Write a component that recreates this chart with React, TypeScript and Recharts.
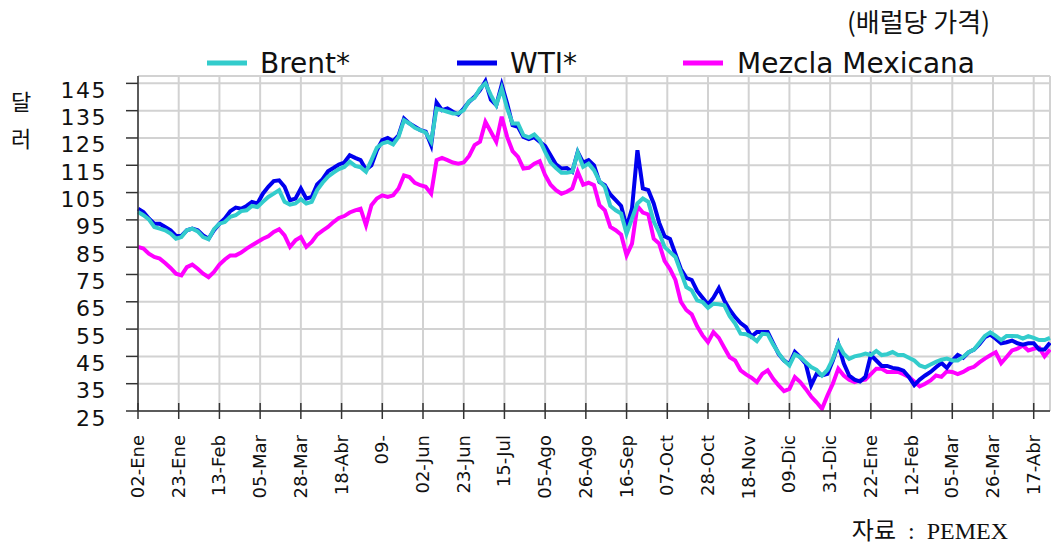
import { CartesianGrid, Line, LineChart, XAxis, YAxis } from "recharts";

// precios diarios (cada 2 días hábiles), dólares por barril
const brent = [
    97.9, 96.7, 95.2, 92.4, 91.8, 91.2, 90, 88.1, 88.7, 91.2,
    91.8, 90.8, 88.7, 87.9, 91.6, 93.6, 94.2, 96.1, 96.7, 98.2,
    98.5, 100.1, 99.7, 101.6, 103.4, 104.6, 105.9, 101.6, 100.6, 101,
    102.6, 101, 101.6, 105.9, 108.6, 110.8, 112.3, 113.6, 114.4, 116.3,
    114.8, 114.3, 112.6, 116.9, 121.4, 123, 123.6, 122.6, 125.4, 131.5,
    130.3, 128.7, 127.9, 127, 123.6, 135.8, 135.2, 134.6, 134, 134,
    135.2, 138.5, 139.7, 143.1, 145, 140.7, 137, 143.1, 135.8, 130.3,
    130.3, 126, 125.2, 126.3, 124.2, 119.9, 116, 114, 112.3, 112.3,
    112.6, 119.7, 114.4, 115.6, 113.2, 109.2, 107.1, 100.1, 98.5, 97.3,
    90, 95.5, 101, 102.8, 101.6, 94.5, 90.3, 85.1, 83.2, 81.4,
    75.9, 70.4, 69.2, 65.5, 64.9, 62.8, 64.3, 64.1, 63.7, 59.7,
    57, 53.3, 53.1, 52.1, 50.6, 53.3, 53.1, 49.4, 46.2, 43.5,
    41.7, 45.7, 44.7, 42.9, 41.1, 40.1, 38, 40.1, 44.1, 49.6,
    46, 44.1, 45, 45.4, 46, 45.5, 47, 45.5, 45.8, 46.6,
    45.5, 45.5, 44.5, 43.5, 41.7, 41, 42, 43, 43.8, 44.2,
    43.5, 43.5, 44.8, 46.5, 47.5, 50, 52.5, 53.8, 52.5, 51,
    52.5, 52.5, 52.4, 51.5, 52.4, 51.8, 51, 51, 51.8,
];

const wti = [
    99.1, 97.9, 95.5, 93.6, 93.6, 92.4, 91.2, 89.1, 89.1, 91.2,
    91.8, 91.2, 89.3, 88.1, 91.2, 93.6, 95.5, 98.2, 99.5, 99.1,
    100.1, 101.6, 101, 104.6, 107.1, 109.2, 109.5, 107.1, 102.2, 102.8,
    106.5, 102.8, 103.4, 108, 109.9, 112.8, 114, 115.3, 116, 118.7,
    117.7, 116.9, 113.4, 115, 120.5, 124.2, 125, 123.8, 126, 132.1,
    130.3, 129.1, 127.9, 127.3, 122.4, 138, 135.2, 135.8, 134.6, 133.6,
    135.8, 138.3, 140.1, 142.5, 145.8, 139, 137, 144.5, 137.6, 129.7,
    129.1, 125.4, 124.6, 125.3, 123.6, 122, 118.7, 115.3, 113.8, 114,
    112.6, 119.9, 116, 116.9, 115, 108.9, 107.7, 104.3, 102.2, 100.1,
    92.4, 99.1, 120.5, 106.5, 105.9, 101, 94, 89, 88, 82.5,
    77, 73.8, 73, 69, 66.5, 64, 66.5, 70, 65.5, 62.1,
    59.4, 57.2, 55.7, 52.3, 53.9, 53.9, 53.9, 49.9, 45.9, 43.5,
    42.1, 46.6, 44.7, 42.3, 34.4, 38.6, 38, 38.6, 43.5, 49.5,
    42.5, 38, 36.5, 35.8, 37.5, 45.5, 43.5, 41.5, 41.5, 40.8,
    40.5, 39.8, 37.5, 34.5, 36.5, 38, 39.3, 41, 42.6, 40.8,
    43.5, 45.5, 44.5, 46.5, 47.5, 49.5, 52, 53, 51.5, 49.8,
    50.2, 50.8, 49.8, 49.3, 49.8, 49.8, 47.5, 47.5, 50,
];

const mezcla = [
    85.1, 84.5, 82.6, 81.4, 80.8, 79.2, 77.4, 75.3, 74.7, 77.7,
    78.6, 77.1, 75.3, 74, 75.9, 78.6, 80.5, 82, 82, 83,
    84.5, 85.7, 86.9, 88.1, 89, 90.6, 91.6, 89.3, 85.1, 87.5,
    88.7, 85.1, 86.9, 89.6, 91.1, 92.4, 94.2, 95.7, 96.4, 97.7,
    98.5, 99.1, 93, 100.4, 102.8, 104, 103.4, 104, 106.5, 111.3,
    110.7, 108.6, 107.7, 107.1, 104.6, 116.9, 117.7, 116.9, 116, 115.6,
    116, 118.4, 122.4, 123.6, 130.9, 127.3, 123.6, 132.8, 125.4, 120.2,
    118.1, 113.8, 114.1, 115.6, 116.5, 111.4, 107.9, 105.9, 104.6, 105.3,
    106.5, 112.6, 107.9, 108.6, 107.7, 100.4, 98.5, 92.4, 91.2, 89.6,
    82, 86.3, 100, 97.7, 97, 88.1, 86.3, 80, 77, 73,
    65, 62, 60.4, 56, 52.7, 50.2, 53.9, 51.8, 48.2, 44.7,
    43.5, 39.9, 38.4, 37.2, 35.6, 38.6, 39.9, 36.8, 34.4, 32.3,
    33.1, 37.4, 35.6, 33.1, 30.3, 28.2, 25.8, 30.7, 35, 40.5,
    38, 36.4, 35.6, 36.2, 36.5, 38.5, 40.5, 40.5, 39.3, 39.3,
    39.3, 38.5, 37.5, 35.8, 34, 35, 36.2, 38, 37.5, 39.5,
    39.3, 38.5, 39.3, 40.5, 41.2, 42.8, 44.2, 45.4, 46.5, 42.5,
    44.8, 47.2, 47.8, 49, 47.2, 47.8, 48.2, 45, 47.5,
];

// una etiqueta cada 15 días hábiles
const etiquetas = [
    "02-Ene", "23-Ene", "13-Feb", "05-Mar", "28-Mar", "18-Abr", "09-",
    "02-Jun", "23-Jun", "15-Jul", "05-Ago", "26-Ago", "16-Sep", "07-Oct",
    "28-Oct", "18-Nov", "09-Dic", "31-Dic", "22-Ene", "12-Feb", "05-Mar",
    "26-Mar", "17-Abr",
];
const valoresY = [25, 35, 45, 55, 65, 75, 85, 95, 105, 115, 125, 135, 145];

const PASO = 2;
const TICKS_CADA = 15;

const series = [
    { key: "mezcla", name: "Mezcla Mexicana", color: "#ff00ff" },
    { key: "wti", name: "WTI*", color: "#0000ee" },
    { key: "brent", name: "Brent*", color: "#33cccc" },
];

const data = wti.map((v, k) => ({
    dia: k * PASO,
    wti: v,
    brent: brent[k],
    mezcla: mezcla[k],
}));
const ticksX = etiquetas.map((_, k) => k * TICKS_CADA);

const W = 1051;
const H = 546;
const EJE_Y = 411;

const TickX = ({ x, payload }: any) => {
    const ty = EJE_Y + 24;
    return (
        <g>
            <line x1={x} y1={EJE_Y - 8} x2={x} y2={EJE_Y + 8} stroke="#333" strokeWidth={1.5} />
            <text
                x={x}
                y={ty}
                transform={`rotate(-90 ${x} ${ty})`}
                textAnchor="end"
                dy="0.33em"
                fontSize={18}
                fontFamily="DejaVu Sans"
                fill="#111"
            >
                {etiquetas[Math.round(payload.value / TICKS_CADA)]}
            </text>
        </g>
    );
};

const TickY = ({ y, payload }: any) => (
    <g>
        <line x1={126} y1={y} x2={138} y2={y} stroke="#333" strokeWidth={1.5} />
        <text
            x={107}
            y={y + 7}
            textAnchor="end"
            dominantBaseline="central"
            fontSize={22}
            letterSpacing={1.5}
            fontFamily="DejaVu Sans"
            fill="#111"
        >
            {payload.value}
        </text>
    </g>
);

const legendPos = [
    { key: "brent", line: 207, text: 260 },
    { key: "wti", line: 457, text: 510 },
    { key: "mezcla", line: 683, text: 737 },
];

const App = () => {
    return (
        <div style={{ position: "absolute", left: 0, top: 0, width: W, height: H, background: "#fff" }}>
            <LineChart
                width={W}
                height={H}
                data={data}
                margin={{ top: 76, right: 1, left: 0, bottom: 0 }}
            >
                <CartesianGrid stroke="#d2d2d2" strokeWidth={2} />
                <XAxis
                    dataKey="dia"
                    type="number"
                    domain={[0, 336]}
                    ticks={ticksX}
                    interval={0}
                    height={135}
                    tick={<TickX />}
                    tickLine={false}
                    axisLine={{ stroke: "#333", strokeWidth: 1.5 }}
                />
                <YAxis
                    type="number"
                    domain={[25, 147.7]}
                    ticks={valoresY}
                    interval={0}
                    width={138}
                    allowDataOverflow
                    tick={<TickY />}
                    tickLine={false}
                    axisLine={{ stroke: "#333", strokeWidth: 1.5 }}
                />
                {series.map((s) => (
                    <Line
                        key={s.key}
                        type="linear"
                        dataKey={s.key}
                        name={s.name}
                        stroke={s.color}
                        strokeWidth={4}
                        dot={false}
                        isAnimationActive={false}
                    />
                ))}
            </LineChart>
            <svg
                width={W}
                height={H}
                style={{ position: "absolute", left: 0, top: 0, pointerEvents: "none" }}
            >
                <text x={990} y={32} textAnchor="end" fontSize={26} fontFamily="Noto Sans CJK KR" fill="#111">
                    (배럴당 가격)
                </text>
                {legendPos.map((p) => {
                    const s = series.find((q) => q.key === p.key)!;
                    return (
                        <g key={p.key}>
                            <line x1={p.line} y1={63} x2={p.line + 40} y2={63} stroke={s.color} strokeWidth={5} />
                            <text x={p.text} y={73} fontSize={28} fontFamily="DejaVu Sans" fill="#111">
                                {s.name}
                            </text>
                        </g>
                    );
                })}
                <text x={21} y={110} textAnchor="middle" fontSize={22} fontFamily="Noto Sans CJK KR" fill="#111">
                    달
                </text>
                <text x={21} y={147} textAnchor="middle" fontSize={22} fontFamily="Noto Sans CJK KR" fill="#111">
                    러
                </text>
                <text
                    x={1008}
                    y={539}
                    textAnchor="end"
                    fontSize={24}
                    fontFamily="Liberation Serif, Noto Sans CJK KR"
                    fill="#111"
                    style={{ whiteSpace: "pre" }}
                >
                    {"자료  :  PEMEX"}
                </text>
            </svg>
        </div>
    );
};

export default App;
